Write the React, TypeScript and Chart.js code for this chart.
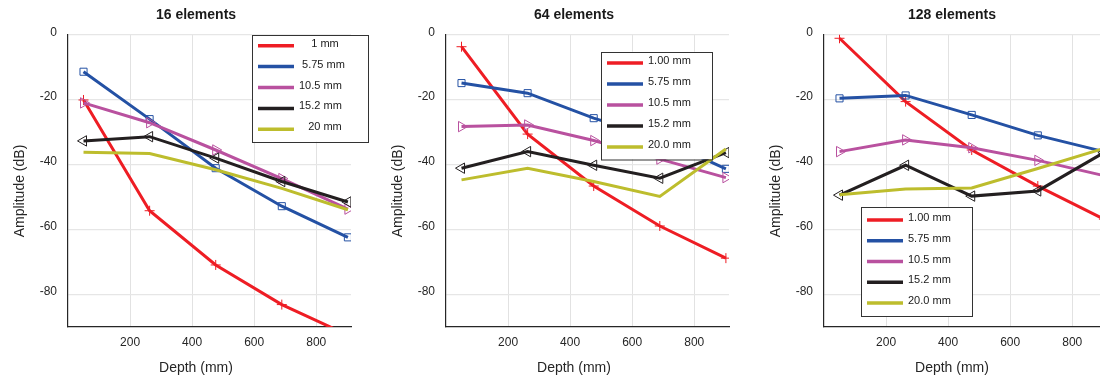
import React, { useEffect, useRef } from "react";
import { Chart, registerables } from "chart.js";

Chart.register(...registerables);

const FONT = "'Liberation Sans', Arial, Helvetica, sans-serif";

// ---------- data ----------
const depths = [50, 263, 476, 689, 902];
const panelTitles = ["16 elements", "64 elements", "128 elements"];
const labels16 = ["    1 mm", " 5.75 mm", "10.5 mm", "15.2 mm", "   20 mm"];
const labelsOther = ["1.00 mm", "5.75 mm", "10.5 mm", "15.2 mm", "20.0 mm"];
const xTickValues = [200, 400, 600, 800];
const yTickValues = [0, -20, -40, -60, -80];
const xAxisTitle = "Depth (mm)";
const yAxisTitle = "Amplitude (dB)";

// 16 elements
const e16_1mm = [-20.1, -54.2, -70.9, -83.1, -92.5];
const e16_575 = [-11.4, -26.0, -41.1, -52.8, -62.4];
const e16_105 = [-21.0, -27.1, -35.5, -44.3, -53.7];
const e16_152 = [-32.7, -31.4, -38.0, -45.2, -51.5];
const e16_20 = [-36.2, -36.6, -41.6, -47.3, -53.9];

// 64 elements
const e64_1mm = [-3.7, -30.6, -46.6, -58.9, -68.8];
const e64_575 = [-14.9, -18.0, -25.7, -32.0, -41.3];
const e64_105 = [-28.3, -27.8, -32.6, -38.3, -44.0];
const e64_152 = [-41.1, -36.0, -40.2, -44.2, -36.3];
const e64_20 = [-44.7, -41.1, -45.2, -49.8, -35.2];

// 128 elements
const e128_1mm = [-1.1, -20.6, -35.5, -46.6, -56.8];
const e128_575 = [-19.6, -18.7, -24.7, -31.0, -36.0];
const e128_105 = [-36.0, -32.4, -34.8, -38.7, -43.4];
const e128_152 = [-49.4, -40.2, -49.7, -48.1, -36.3];
const e128_20 = [-49.3, -47.5, -47.2, -41.2, -35.0];

const panelSeries = [
  [e16_1mm, e16_575, e16_105, e16_152, e16_20],
  [e64_1mm, e64_575, e64_105, e64_152, e64_20],
  [e128_1mm, e128_575, e128_105, e128_152, e128_20],
];
const panelLabels = [labels16, labelsOther, labelsOther];

// ---------- styles ----------
const seriesStyles = [
  { color: "#ee1d24", point: "cross", radius: 5, rotation: 0 },
  { color: "#2451a4", point: "rect", radius: 5, rotation: 0 },
  { color: "#b9519f", point: "triangle", radius: 6, rotation: 90 },
  { color: "#231f20", point: "triangle", radius: 6, rotation: -90 },
  { color: "#bdbd2d", point: false, radius: 0, rotation: 0 },
];

const panelLayout = [
  { left: 0, legend: { x: 252, y: 34.7, w: 116, h: 107, first: 11, gap: 20.9 } },
  { left: 378, legend: { x: 223, y: 51.7, w: 111, h: 107.5, first: 11.3, gap: 21 } },
  { left: 756, legend: { x: 105, y: 207, w: 111, h: 109, first: 13, gap: 20.75 } },
];

const CANVAS_W = 392;
const CANVAS_H = 381;

const decoPlugin = {
  id: "deco",
  afterDraw(chart: any, _args: any, opts: any) {
    const ctx = chart.ctx as CanvasRenderingContext2D;
    ctx.save();
    // panel title
    ctx.fillStyle = "#1a1a1a";
    ctx.textAlign = "center";
    ctx.textBaseline = "middle";
    ctx.font = `bold 14px ${FONT}`;
    ctx.fillText(opts.title, CANVAS_W / 2, 15);
    // axis titles
    ctx.fillStyle = "#262626";
    ctx.font = `14px ${FONT}`;
    ctx.fillText(opts.xTitle, CANVAS_W / 2, 368);
    ctx.save();
    ctx.translate(20, 191);
    ctx.rotate(-Math.PI / 2);
    ctx.fillText(opts.yTitle, 0, 0);
    ctx.restore();
    // legend
    const lg = opts.legend;
    ctx.fillStyle = "#ffffff";
    ctx.fillRect(lg.x, lg.y, lg.w, lg.h);
    ctx.strokeStyle = "#333333";
    ctx.lineWidth = 1;
    ctx.strokeRect(Math.round(lg.x) + 0.5, Math.round(lg.y) + 0.5, lg.w, lg.h);
    ctx.font = `11px ${FONT}`;
    ctx.textAlign = "left";
    ctx.textBaseline = "middle";
    chart.data.datasets.forEach((ds: any, i: number) => {
      const ly = lg.y + lg.first + i * lg.gap;
      ctx.strokeStyle = ds.borderColor;
      ctx.lineWidth = 3.5;
      ctx.beginPath();
      ctx.moveTo(lg.x + 6, ly);
      ctx.lineTo(lg.x + 42, ly);
      ctx.stroke();
      ctx.fillStyle = "#1a1a1a";
      ctx.fillText(ds.label, lg.x + 47, ly - 2);
    });
    ctx.restore();
  },
};

function Panel({ index }: { index: number }) {
  const ref = useRef<HTMLCanvasElement | null>(null);
  useEffect(() => {
    if (!ref.current) return;
    const series = panelSeries[index];
    const labels = panelLabels[index];
    const datasets = series.map((vals, i) => {
      const st = seriesStyles[i];
      return {
        label: labels[i],
        data: vals.map((v, k) => ({ x: depths[k], y: v })),
        borderColor: st.color,
        backgroundColor: st.color,
        borderWidth: 3,
        pointStyle: st.point as any,
        pointRadius: st.radius,
        pointRotation: st.rotation,
        pointBorderColor: st.color,
        pointBackgroundColor: "rgba(255,255,255,0)",
        pointBorderWidth: 1,
        tension: 0,
        order: 5 - i,
      };
    });
    const chart = new Chart(ref.current, {
      type: "line",
      data: { datasets },
      plugins: [decoPlugin],
      options: {
        responsive: false,
        animation: false,
        layout: { padding: { top: 34.7, right: 41, bottom: 0, left: 0 } },
        scales: {
          x: {
            type: "linear",
            min: 0,
            max: 912,
            afterBuildTicks: (s: any) => {
              s.ticks = xTickValues.map((v) => ({ value: v }));
            },
            afterFit: (s: any) => {
              s.height = 54;
            },
            grid: { color: "#e2e2e2", drawTicks: false, lineWidth: 1 },
            border: { display: true, color: "#262626", width: 1.2 },
            ticks: {
              padding: 8,
              color: "#262626",
              font: { family: FONT, size: 12 },
              maxRotation: 0,
            },
          },
          y: {
            type: "linear",
            min: -90,
            max: 0,
            afterBuildTicks: (s: any) => {
              s.ticks = yTickValues.map((v) => ({ value: v }));
            },
            afterFit: (s: any) => {
              s.width = 68;
            },
            grid: { color: "#e6e6e6", drawTicks: false, lineWidth: 1.3 },
            border: { display: true, color: "#262626", width: 1.2 },
            ticks: {
              padding: 11,
              labelOffset: -2.5,
              color: "#262626",
              font: { family: FONT, size: 12 },
            },
          },
        },
        plugins: {
          legend: { display: false },
          tooltip: { enabled: false },
          title: { display: false },
          deco: {
            title: panelTitles[index],
            xTitle: xAxisTitle,
            yTitle: yAxisTitle,
            legend: panelLayout[index].legend,
          },
        } as any,
      },
    });
    return () => chart.destroy();
  }, [index]);
  return (
    <canvas
      ref={ref}
      width={CANVAS_W}
      height={CANVAS_H}
      style={{
        position: "absolute",
        left: panelLayout[index].left,
        top: 0,
        width: CANVAS_W,
        height: CANVAS_H,
      }}
    />
  );
}

export default function App() {
  return (
    <div
      style={{
        position: "fixed",
        left: 0,
        top: 0,
        width: 1100,
        height: 381,
        overflow: "hidden",
        background: "#ffffff",
      }}
    >
      <Panel index={0} />
      <Panel index={1} />
      <Panel index={2} />
    </div>
  );
}
